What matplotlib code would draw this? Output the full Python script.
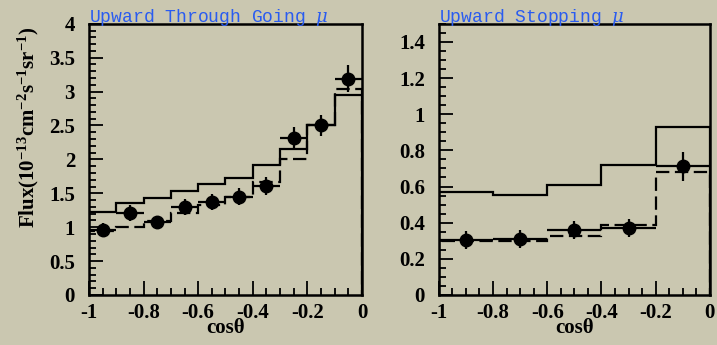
import numpy as np
import matplotlib
matplotlib.use("Agg")
import matplotlib.pyplot as plt
from matplotlib.ticker import MultipleLocator, FuncFormatter

# ── data ─────────────────────────────────────────────────────────────
# upward through-going muons, bins of 0.1 in cos(theta)
thru_edges = np.round(np.arange(-1.0, 0.01, 0.1), 2)
thru_nosc = [1.23, 1.35, 1.43, 1.53, 1.63, 1.73, 1.91, 2.15, 2.51, 2.95]
thru_osc = [0.95, 1.01, 1.09, 1.21, 1.32, 1.45, 1.66, 2.00, 2.50, 3.04]
thru_x = [-0.95, -0.85, -0.75, -0.65, -0.55, -0.45, -0.35, -0.25, -0.15, -0.05]
thru_y = [0.96, 1.21, 1.07, 1.30, 1.37, 1.45, 1.61, 2.32, 2.50, 3.19]
thru_err = [0.10, 0.12, 0.10, 0.12, 0.12, 0.13, 0.13, 0.16, 0.16, 0.20]

# upward stopping muons, bins of 0.2
stop_edges = [-1.0, -0.8, -0.6, -0.4, -0.2, 0.0]
stop_nosc = [0.567, 0.555, 0.607, 0.721, 0.929]
stop_osc = [0.296, 0.296, 0.327, 0.385, 0.681]
stop_x = [-0.9, -0.7, -0.5, -0.3, -0.1]
stop_y = [0.305, 0.309, 0.359, 0.370, 0.712]
stop_err = [0.05, 0.05, 0.05, 0.05, 0.08]

BG = "#cac7b0"
plt.rcParams["font.family"] = ["Liberation Serif", "DejaVu Serif"]
plt.rcParams["font.weight"] = "bold"
plt.rcParams["mathtext.fontset"] = "custom"
plt.rcParams["mathtext.rm"] = "Liberation Serif:bold"
plt.rcParams["mathtext.bf"] = "Liberation Serif:bold"
plt.rcParams["mathtext.it"] = "DejaVu Serif:style=italic:weight=normal"

fig = plt.figure(figsize=(7.17, 3.45), dpi=100, facecolor=BG)
ax1 = fig.add_axes([0.124, 0.145, 0.381, 0.786])
ax2 = fig.add_axes([0.612, 0.145, 0.378, 0.786])

fmt = FuncFormatter(lambda v, p: f"{round(v, 2):g}")


def draw(ax, edges, nosc, osc, x, y, yerr, xhalf, ylim, ymaj, ymin, title):
    ax.set_facecolor("none")
    ax.stairs(nosc, edges, color="black", lw=1.6)
    ax.stairs(osc, edges, color="black", lw=1.6, linestyle=(0, (6, 2.5)))
    ax.errorbar(x, y, yerr=yerr, xerr=xhalf, fmt="o", color="black",
                ms=9, elinewidth=1.6, capsize=0)
    ax.set_xlim(-1, 0)
    ax.set_ylim(*ylim)
    ax.xaxis.set_major_locator(MultipleLocator(0.2))
    ax.xaxis.set_minor_locator(MultipleLocator(0.05))
    ax.yaxis.set_major_locator(MultipleLocator(ymaj))
    ax.yaxis.set_minor_locator(MultipleLocator(ymin))
    ax.xaxis.set_major_formatter(fmt)
    ax.yaxis.set_major_formatter(fmt)
    ax.tick_params(which="both", direction="in", top=False, right=False,
                   labelsize=15, width=1.3)
    ax.tick_params(which="major", length=10)
    ax.tick_params(which="minor", length=5)
    ax.tick_params(axis="y", pad=10)
    ax.tick_params(axis="x", pad=6)
    for lab in ax.get_xticklabels() + ax.get_yticklabels():
        lab.set_fontweight("bold")
    for s in ax.spines.values():
        s.set_linewidth(1.8)
    ax.set_xlabel("cosθ", fontsize=15, fontweight="bold", labelpad=-4)
    ax.text(0.0, 0.985, title, transform=ax.transAxes, ha="left", va="bottom",
            fontsize=13, color="#2a5cf0", family=["Liberation Mono", "DejaVu Sans"],
            fontweight="normal")


draw(ax1, thru_edges, thru_nosc, thru_osc, thru_x, thru_y, thru_err, 0.05,
     (0, 4), 0.5, 0.1, "Upward Through Going $\\mathit{\\mu}$")
draw(ax2, stop_edges, stop_nosc, stop_osc, stop_x, stop_y, stop_err, 0.1,
     (0, 1.5), 0.2, 0.05, "Upward Stopping $\\mathit{\\mu}$")
ax2.set_yticks([0, 0.2, 0.4, 0.6, 0.8, 1.0, 1.2, 1.4])
for lab in ax2.get_yticklabels():
    lab.set_fontweight("bold")

ax1.set_ylabel("Flux(10$^{\\mathbf{-13}}$cm$^{\\mathbf{-2}}$s$^{\\mathbf{-1}}$sr$^{\\mathbf{-1}}$)",
               fontsize=15, fontweight="bold")
ax1.yaxis.set_label_coords(-0.175, 0.62)

fig.savefig("out.png", dpi=100, facecolor=BG)
